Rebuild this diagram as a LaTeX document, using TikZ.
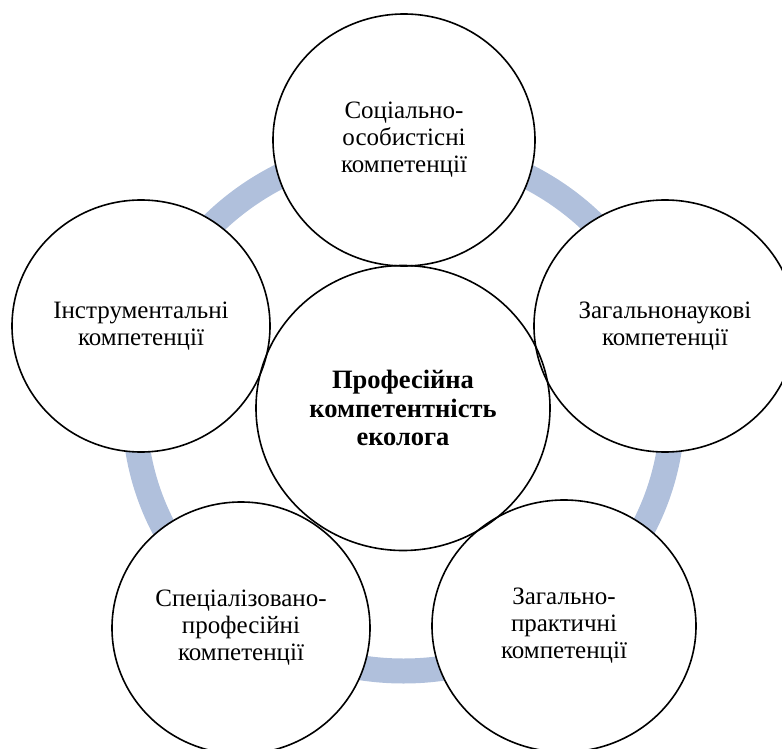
\documentclass[tikz,border=0pt]{standalone}
\usepackage{fontspec}
\setmainfont{Liberation Serif}
\usetikzlibrary{shapes.geometric}
\definecolor{ringblue}{RGB}{176,192,220}
\tikzset{
  bubble/.style={ellipse, inner sep=0pt, fill=white, draw=none, align=center,
    font=\fontsize{25}{27}\selectfont},
  outline/.style={draw=black, line width=1.6pt},
  ringline/.style={draw=ringblue, line width=25pt}
}
\begin{document}
\begin{tikzpicture}[x=1pt,y=-1pt]
\useasboundingbox (0,0) rectangle (782,749);
\clip (0,0) rectangle (782,749);
% ring
\coordinate (O) at (403.5,409);
\draw[ringline] (O) ellipse [x radius=269pt, y radius=262pt];
% circles (fills and text)
\node[bubble, minimum width=262pt, minimum height=252pt] (T) at (404,140) {Соціально-\\особистісні\\компетенції};
\node[bubble, minimum width=262pt, minimum height=252pt] (R) at (665,326) {Загальнонаукові\\компетенції};
\node[bubble, minimum width=258pt, minimum height=252pt] (L) at (141,326) {Інструментальні\\компетенції};
\node[bubble, minimum width=258pt, minimum height=252pt] (BL) at (241,628) {Спеціалізовано-\\професійні\\компетенції};
\node[bubble, minimum width=264pt, minimum height=252pt] (BR) at (564,626) {Загально-\\практичні\\компетенції};
\node[bubble, minimum width=294pt, minimum height=285pt, font=\fontsize{26.5}{28.5}\selectfont\bfseries] (C) at (403,408) {Професійна\\компетентність\\еколога};
% outlines
\draw[outline] (T.center) ellipse [x radius=131pt, y radius=126pt];
\draw[outline] (R.center) ellipse [x radius=131pt, y radius=126pt];
\draw[outline] (L.center) ellipse [x radius=129pt, y radius=126pt];
\draw[outline] (BL.center) ellipse [x radius=129pt, y radius=126pt];
\draw[outline] (BR.center) ellipse [x radius=132pt, y radius=126pt];
\draw[outline] (C.center) ellipse [x radius=147pt, y radius=142.5pt];
\end{tikzpicture}
\end{document}
